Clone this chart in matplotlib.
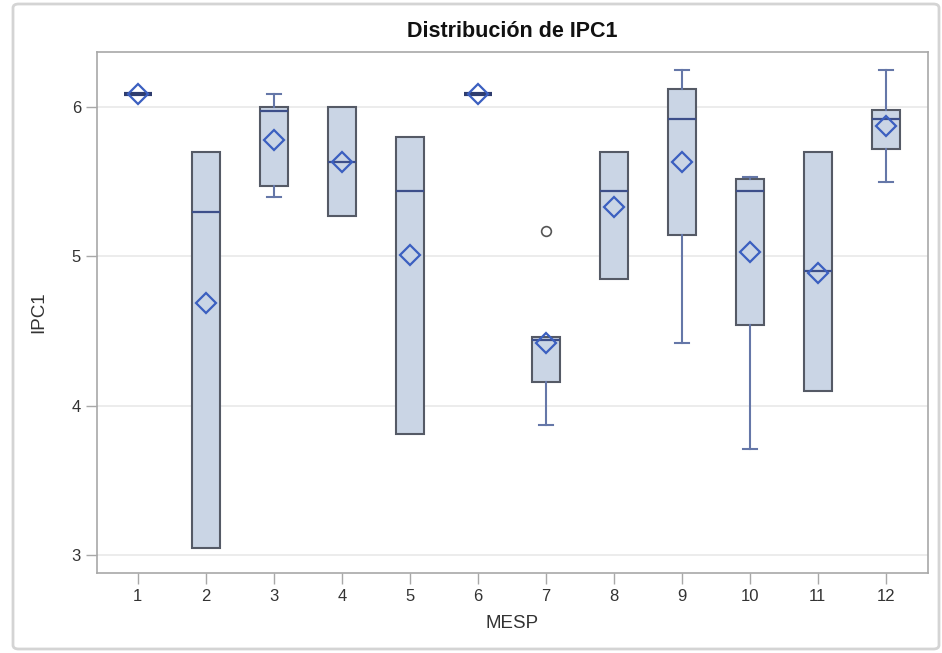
import matplotlib
matplotlib.use("Agg")
import matplotlib.pyplot as plt
from matplotlib.patches import FancyBboxPatch

# values (IPC1 by MESP)
mesp = [1, 2, 3, 4, 5, 6, 7, 8, 9, 10, 11, 12]
whislo = [6.09, 3.05, 5.40, 5.27, 3.81, 6.09, 3.87, 4.85, 4.42, 3.71, 4.10, 5.50]
q1 = [6.09, 3.05, 5.47, 5.27, 3.81, 6.09, 4.16, 4.85, 5.14, 4.54, 4.10, 5.72]
med = [6.09, 5.30, 5.97, 5.63, 5.44, 6.09, 4.44, 5.44, 5.92, 5.44, 4.90, 5.92]
q3 = [6.09, 5.70, 6.00, 6.00, 5.80, 6.09, 4.46, 5.70, 6.12, 5.52, 5.70, 5.98]
whishi = [6.09, 5.70, 6.09, 6.00, 5.80, 6.09, 4.46, 5.70, 6.25, 5.53, 5.70, 6.25]
mean = [6.09, 4.69, 5.78, 5.63, 5.01, 6.09, 4.42, 5.33, 5.63, 5.03, 4.89, 5.87]
fliers = [[], [], [], [], [], [], [5.17], [], [], [], [], []]

stats = []
for i in range(len(mesp)):
    stats.append({'whislo': whislo[i], 'q1': q1[i], 'med': med[i], 'q3': q3[i],
                  'whishi': whishi[i], 'mean': mean[i], 'fliers': fliers[i]})

plt.rcParams['font.family'] = ['Liberation Sans', 'DejaVu Sans']

fig = plt.figure(figsize=(9.42, 6.53), dpi=100)
ax = fig.add_axes([97/942, 80/653, 831/942, 521/653])

fill = '#cad5e5'
edge = '#555a66'
blue = '#3d4f8a'
wcol = '#6577a8'

bp = ax.bxp(stats, positions=mesp, widths=0.42, patch_artist=True, showmeans=True,
            boxprops=dict(facecolor=fill, edgecolor=edge, linewidth=1.5),
            medianprops=dict(color=blue, linewidth=1.6),
            whiskerprops=dict(color=wcol, linewidth=1.5),
            capprops=dict(color=wcol, linewidth=1.5),
            capwidths=0.2,
            meanprops=dict(marker='D', markerfacecolor='none', markeredgecolor='#3b5fc0',
                           markeredgewidth=1.6, markersize=10),
            flierprops=dict(marker='o', markerfacecolor='none', markeredgecolor='#555555',
                            markeredgewidth=1.2, markersize=7))

# no caps where the whisker has no length
for i in range(len(mesp)):
    if whislo[i] == q1[i]:
        bp['caps'][2*i].set_visible(False)
    if whishi[i] == q3[i]:
        bp['caps'][2*i+1].set_visible(False)
    if q1[i] == q3[i]:
        bp['medians'][i].set_linewidth(3)
        bp['medians'][i].set_color('#2f3d6e')

ax.set_xlim(0.4, 12.62)
ax.set_ylim(2.88, 6.368)
ax.set_yticks([3, 4, 5, 6])
ax.set_xticks(mesp)
ax.set_xticklabels([str(m) for m in mesp])
ax.grid(axis='y', color='#e9e9e9', linewidth=1.2)
ax.set_axisbelow(True)

for s in ax.spines.values():
    s.set_color('#a8a8a8')
    s.set_linewidth(1.2)
ax.tick_params(colors='#a8a8a8', labelcolor='#333333', labelsize=12, length=8, width=1)

ax.set_title('Distribución de IPC1', fontsize=15.5, fontweight='bold', color='#111111', pad=11)
ax.set_xlabel('MESP', fontsize=13.5, color='#333333', labelpad=8)
ax.set_ylabel('IPC1', fontsize=13.5, color='#333333', labelpad=18)

# light frame round the whole graph
border = FancyBboxPatch((13/942, 4/653), 926/942, 645/653, boxstyle='round,pad=0,rounding_size=0.006',
                        transform=fig.transFigure, fill=False, edgecolor='#d4d4d4', linewidth=2)
fig.patches.append(border)

fig.savefig('out.png', dpi=100)
